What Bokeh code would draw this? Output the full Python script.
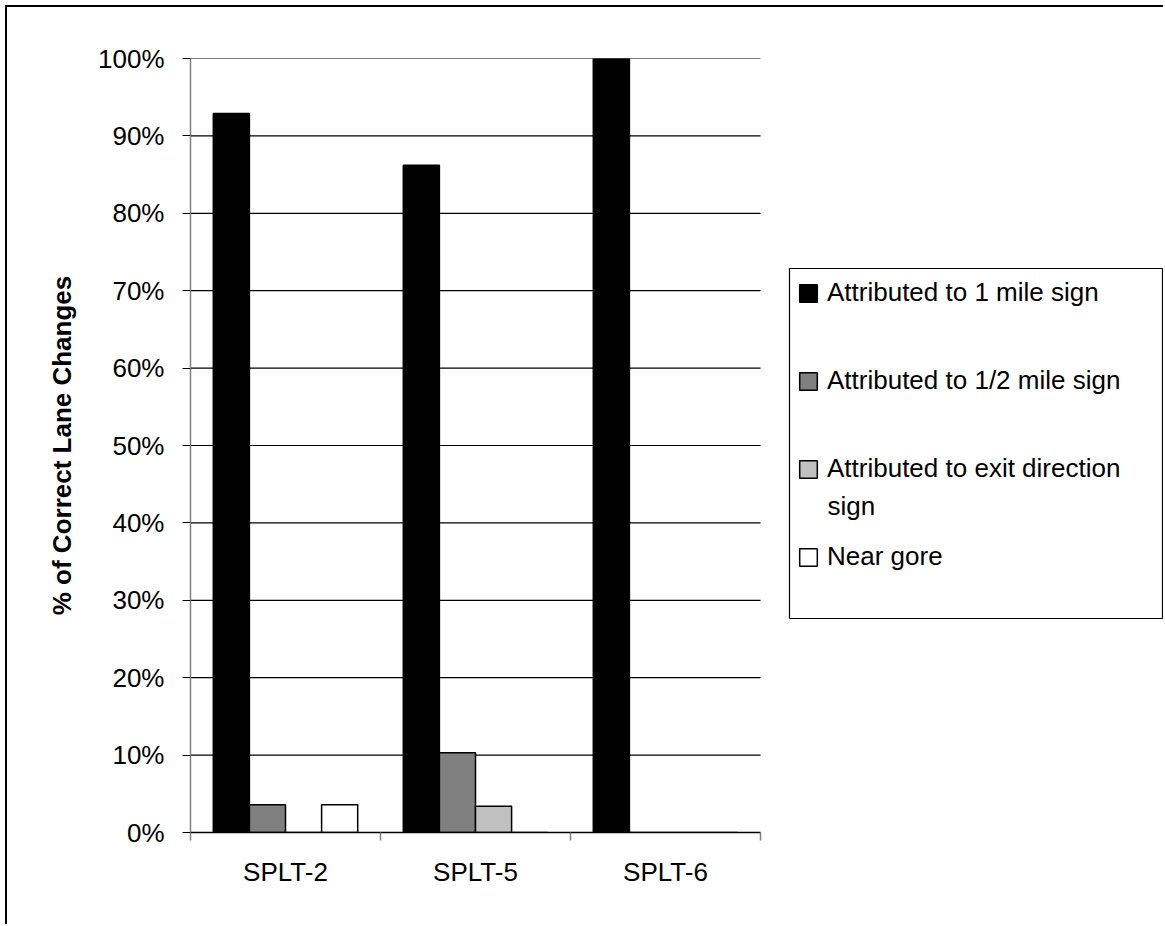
import numpy as np
from bokeh.plotting import figure
from bokeh.models import (Range1d, FixedTicker, NumeralTickFormatter, Legend,
                          LegendItem, Label, BoxAnnotation, ColumnDataSource)
from bokeh.embed import file_html
from bokeh.resources import INLINE

# ---------------- data ----------------
categories = ["SPLT-2", "SPLT-5", "SPLT-6"]
series_names = ["Attributed to 1 mile sign", "Attributed to 1/2 mile sign",
                "Attributed to exit direction sign", "Near gore"]
one_mile = [0.929, 0.862, 1.0]
half_mile = [0.036, 0.103, 0.0]
exit_direction = [0.0, 0.034, 0.0]
near_gore = [0.036, 0.0, 0.0]
y_ticks = [0.0, 0.1, 0.2, 0.3, 0.4, 0.5, 0.6, 0.7, 0.8, 0.9, 1.0]

series_values = [one_mile, half_mile, exit_direction, near_gore]
series_colors = ["#000000", "#808080", "#C0C0C0", "#FFFFFF"]

FONT = "Liberation Sans"

# layout (canvas px): bar area 183..753 wide, frame extended to the right so the
# legend (which lives in the frame) is not clipped
FRAME_L, BAR_R, FRAME_R, FRAME_T, FRAME_B = 183, 753, 1156, 51, 825
W, H = 1158, 919
n = len(categories)
x_end = n * (FRAME_R - FRAME_L) / (BAR_R - FRAME_L)


def px_to_x(px):
    return (px - FRAME_L) / (BAR_R - FRAME_L) * n


def px_to_y(py):
    return (FRAME_B - py) / (FRAME_B - FRAME_T)


p = figure(width=W, height=H, output_backend="svg", toolbar_location=None,
           x_range=Range1d(0, x_end), y_range=Range1d(0, 1),
           min_border_left=FRAME_L, min_border_right=W - FRAME_R,
           min_border_top=FRAME_T, min_border_bottom=H - FRAME_B,
           styles={"border-top": "2px solid #000", "border-left": "2px solid #000",
                   "margin": "5px 0 0 5px"})
p.outline_line_color = None
p.background_fill_color = "white"
p.border_fill_color = "white"
p.xgrid.visible = False
p.ygrid.visible = False

# ---------------- gridlines (limited to the category span) ----------------
p.segment(x0=[0] * len(y_ticks), x1=[n] * len(y_ticks), y0=y_ticks, y1=y_ticks,
          line_color="black", line_width=1.2)

# ---------------- bars ----------------
bar_w = 0.19
offsets = [-1.5 * bar_w, -0.5 * bar_w, 0.5 * bar_w, 1.5 * bar_w]
centers = np.arange(n) + 0.5
renderers = []
for vals, col, off in zip(series_values, series_colors, offsets):
    src = ColumnDataSource(dict(x=centers + off, top=vals))
    r = p.vbar(x="x", top="top", width=bar_w, bottom=0, source=src,
               fill_color=col, line_color="black", line_width=1.5)
    renderers.append(r)

# ---------------- axes ----------------
yax = p.yaxis[0]
yax.ticker = FixedTicker(ticks=y_ticks, minor_ticks=[])
yax.formatter = NumeralTickFormatter(format="0%")
yax.axis_line_color = "#808080"
yax.axis_line_width = 1.5
yax.major_tick_line_color = "black"
yax.major_tick_out = 8
yax.major_tick_in = 0
yax.minor_tick_line_color = None
yax.major_label_text_font = FONT
yax.major_label_text_font_size = "26px"
yax.major_label_text_color = "black"
yax.major_label_standoff = 18
yax.axis_label = "% of Correct Lane Changes"
yax.axis_label_text_font = FONT
yax.axis_label_text_font_size = "26px"
yax.axis_label_text_font_style = "bold"
yax.axis_label_text_color = "black"
yax.axis_label_standoff = 18

xax = p.xaxis[0]
xax.bounds = (0, n)
xax.ticker = FixedTicker(ticks=list(centers), minor_ticks=list(range(n + 1)))
xax.major_label_overrides = {float(c): name for c, name in zip(centers, categories)}
xax.axis_line_color = "black"
xax.axis_line_width = 1.5
xax.major_tick_line_color = None
xax.major_tick_out = 0
xax.major_tick_in = 0
xax.minor_tick_line_color = "#808080"
xax.minor_tick_line_width = 1.5
xax.minor_tick_out = 8
xax.minor_tick_in = 0
xax.major_label_text_font = FONT
xax.major_label_text_font_size = "26px"
xax.major_label_text_color = "black"
xax.major_label_standoff = 16

# ---------------- legend ----------------
box = BoxAnnotation(left=px_to_x(782), right=px_to_x(1155),
                    top=px_to_y(261), bottom=px_to_y(611),
                    fill_color=None, fill_alpha=0,
                    line_color="black", line_width=1.2, line_alpha=1.0)
p.add_layout(box)

legend_labels = [series_names[0], series_names[1],
                 "Attributed to exit direction", series_names[3]]
items = [LegendItem(label=l, renderers=[r]) for l, r in zip(legend_labels, renderers)]
leg = Legend(items=items, location=(790 - FRAME_L, FRAME_B - 565), padding=0, margin=0,
             spacing=57, glyph_width=22, glyph_height=22, label_standoff=8,
             label_height=30,
             border_line_alpha=0, background_fill_alpha=0,
             label_text_font=FONT, label_text_font_size="26px",
             label_text_color="black")
p.add_layout(leg, "center")

sign = Label(x=820 - FRAME_L, y=FRAME_B - 498, x_units="screen", y_units="screen",
             text="sign", text_font=FONT, text_font_size="26px", text_color="black",
             text_align="left", text_baseline="middle")
p.add_layout(sign, "center")

open("out.html", "w").write(file_html(p, INLINE))
